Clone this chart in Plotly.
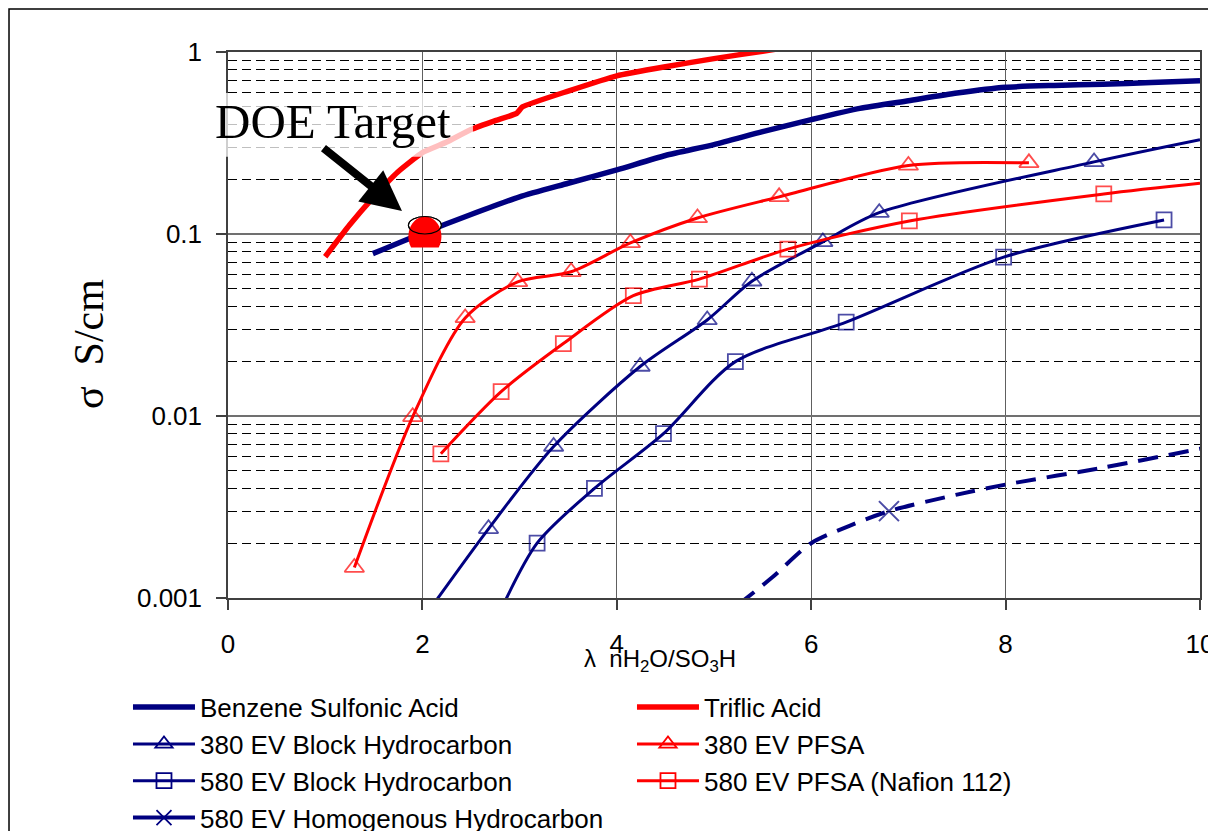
import numpy as np
import plotly.graph_objects as go

# ---------------- data ----------------
bsa_x = [1.49, 2.0, 2.5, 3.0, 3.5, 4.0, 4.5, 5.0, 5.5, 6.0, 6.5, 7.0, 7.5, 8.0, 8.5, 9.0, 9.5, 10.0]
bsa_y = [0.078, 0.101, 0.128, 0.160, 0.190, 0.225, 0.27, 0.31, 0.365, 0.425, 0.49, 0.54, 0.595, 0.64, 0.655, 0.665, 0.68, 0.695]

trf_x = [1.0, 1.25, 1.5, 1.75, 2.0, 2.25, 2.5, 2.75, 2.97, 3.03, 3.5, 4.0, 4.5, 5.0, 5.5, 6.0, 6.25]
trf_y = [0.075, 0.112, 0.16, 0.22, 0.28, 0.32, 0.375, 0.42, 0.46, 0.50, 0.61, 0.74, 0.83, 0.92, 1.01, 1.11, 1.15]

# 380 EV Block Hydrocarbon: markers + line extensions
b380_x = [2.68, 3.35, 4.24, 4.93, 5.39, 6.12, 6.70, 8.91]
b380_y = [0.0024, 0.0068, 0.0187, 0.0337, 0.055, 0.0905, 0.131, 0.249]
b380_lo_x, b380_lo_y = [2.0], [0.00076]
b380_hi_x, b380_hi_y = [10.0], [0.33]

# 380 EV PFSA
p380_x = [1.30, 1.90, 2.44, 2.98, 3.53, 4.14, 4.83, 5.67, 7.00, 8.24]
p380_y = [0.00147, 0.0099, 0.0346, 0.0546, 0.062, 0.0893, 0.1225, 0.160, 0.238, 0.246]

# 580 EV Block Hydrocarbon
b580_x = [3.18, 3.77, 4.48, 5.22, 6.36, 7.98, 9.63]
b580_y = [0.0020, 0.0040, 0.0080, 0.0199, 0.0328, 0.0746, 0.1195]
b580_lo_x, b580_lo_y = [2.75], [0.00074]

# 580 EV PFSA (Nafion 112)
p580_x = [2.19, 2.81, 3.45, 4.17, 4.85, 5.76, 7.01, 9.01]
p580_y = [0.0062, 0.0136, 0.0250, 0.0458, 0.0565, 0.0826, 0.118, 0.166]
p580_hi_x, p580_hi_y = [10.0], [0.19]

# 580 EV Homogenous Hydrocarbon (dashed, one marker at 6.8)
hom_x = [5.25, 5.6, 6.0, 6.4, 6.8, 7.5, 8.0, 9.0, 10.0, 10.2]
hom_y = [0.00092, 0.0013, 0.0020, 0.0025, 0.0030, 0.0037, 0.0042, 0.0052, 0.0066, 0.0069]
hom_marker_x = [6.8]

doe_x, doe_y = [2.0], [0.1]

series_names = ["Benzene Sulfonic Acid", "Triflic Acid", "380 EV Block Hydrocarbon", "380 EV PFSA",
                "580 EV Block Hydrocarbon", "580 EV PFSA (Nafion 112)", "580 EV Homogenous Hydrocarbon"]

x_ticks = [0, 2, 4, 6, 8, 10]
y_ticks = [0.001, 0.01, 0.1, 1]
y_ticktext = ["0.001", "0.01", "0.1", "1"]

NAVY = "#000080"
RED = "#FF0000"
TRI = 17   # triangle marker size
SQ = 15    # square marker size
XS = 20    # x marker size

styles = {
    series_names[0]: dict(color=NAVY, width=5.5, symbol=None, dash="solid"),
    series_names[1]: dict(color=RED, width=5.5, symbol=None, dash="solid"),
    series_names[2]: dict(color=NAVY, width=3, symbol="triangle-up-open", size=TRI, dash="solid"),
    series_names[3]: dict(color=RED, width=3, symbol="triangle-up-open", size=TRI, dash="solid"),
    series_names[4]: dict(color=NAVY, width=3, symbol="square-open", size=SQ, dash="solid"),
    series_names[5]: dict(color=RED, width=3, symbol="square-open", size=SQ, dash="solid"),
    series_names[6]: dict(color=NAVY, width=4, symbol="x-thin-open", size=XS, dash="20px,11px"),
}


def join(lo_x, lo_y, mx, my, hi_x, hi_y, size):
    xs = list(lo_x) + list(mx) + list(hi_x)
    ys = list(lo_y) + list(my) + list(hi_y)
    sz = [0] * len(lo_x) + [size] * len(mx) + [0] * len(hi_x)
    return xs, ys, sz


fig = go.Figure()

# legend proxies (no data, only legend entries)
for name in series_names:
    st = styles[name]
    if st["symbol"] is None:
        fig.add_trace(go.Scatter(x=[None], y=[None], mode="lines", name=name,
                                 line=dict(color=st["color"], width=st["width"])))
    else:
        fig.add_trace(go.Scatter(x=[None], y=[None], mode="lines+markers", name=name,
                                 line=dict(color=st["color"], width=st["width"] if name != series_names[6] else 4),
                                 marker=dict(symbol=st["symbol"], size=min(st["size"], 15), color=st["color"],
                                             line=dict(color=st["color"], width=1.8))))


def add_series(name, xs, ys, sz=None, smoothing=0.8):
    st = styles[name]
    kw = dict(x=xs, y=ys, name=name, showlegend=False,
              line=dict(color=st["color"], width=st["width"], dash=st["dash"],
                        shape="spline", smoothing=smoothing))
    if sz is None:
        kw["mode"] = "lines"
    else:
        kw["mode"] = "lines+markers"
        kw["marker"] = dict(symbol=st["symbol"], size=sz, color=st["color"],
                            line=dict(color=st["color"], width=1.8 if st["symbol"] != "x-thin-open" else 2))
    fig.add_trace(go.Scatter(**kw))


add_series(series_names[0], bsa_x, bsa_y, smoothing=0.6)
add_series(series_names[1], trf_x, trf_y, smoothing=0.4)
add_series(series_names[2], *join(b380_lo_x, b380_lo_y, b380_x, b380_y, b380_hi_x, b380_hi_y, TRI))
add_series(series_names[3], *join([], [], p380_x, p380_y, [], [], TRI))
add_series(series_names[4], *join(b580_lo_x, b580_lo_y, b580_x, b580_y, [], [], SQ))
add_series(series_names[5], *join([], [], p580_x, p580_y, p580_hi_x, p580_hi_y, SQ))
add_series(series_names[6], hom_x, hom_y, [XS if v in hom_marker_x else 0 for v in hom_x])

# ---------------- DOE target marker (ellipse, red upper part) ----------------
rx, ry, cx, cy = 16.5, 20.0, 2.5, -2.5   # pixels relative to the (2, 0.1) anchor, y up
chord = cy - 11.0
ang_lo = np.arcsin((chord - cy) / ry)
tt = np.linspace(ang_lo, np.pi - ang_lo, 80)
cap_path = "M" + " L".join(f"{cx + rx*np.cos(a):.2f},{cy + ry*np.sin(a):.2f}" for a in tt) + " Z"

shapes = [
    dict(type="circle", xref="x", yref="y", xsizemode="pixel", ysizemode="pixel",
         xanchor=doe_x[0], yanchor=doe_y[0], x0=cx - rx, x1=cx + rx, y0=cy - ry, y1=cy + ry,
         fillcolor="white", line=dict(color="black", width=1), layer="above"),
    dict(type="path", xref="x", yref="y", xsizemode="pixel", ysizemode="pixel",
         xanchor=doe_x[0], yanchor=doe_y[0], path=cap_path,
         fillcolor=RED, line=dict(width=0), layer="above"),
    dict(type="circle", xref="x", yref="y", xsizemode="pixel", ysizemode="pixel",
         xanchor=doe_x[0], yanchor=doe_y[0], x0=cx - rx, x1=cx + rx, y0=cy - ry, y1=cy + ry,
         fillcolor="rgba(0,0,0,0)", line=dict(color="black", width=1.2), layer="above"),
    # translucent box behind DOE text
    dict(type="rect", xref="paper", yref="paper", x0=-0.0154, x1=0.252, y0=0.808, y1=0.925,
         fillcolor="rgba(255,255,255,0.75)", line=dict(width=0), layer="above"),
    # outer frame
    dict(type="rect", xref="paper", yref="paper", x0=-0.2253, x1=1.3, y0=-1.0, y1=1.0788,
         fillcolor="rgba(0,0,0,0)", line=dict(color="black", width=1.5), layer="above"),
]

annotations = [
    dict(text="DOE Target", xref="paper", yref="paper", x=0.108, y=0.872, showarrow=False,
         font=dict(family="Liberation Serif", size=49, color="black"), xanchor="center", yanchor="middle"),
    dict(text="", xref="paper", yref="paper", x=0.179, y=0.709, showarrow=True,
         ax=-80, ay=-64, arrowhead=2, arrowsize=1.0, arrowwidth=8, arrowcolor="black", standoff=0),
    dict(text="λ  nH<sub>2</sub>O/SO<sub>3</sub>H", xref="paper", yref="paper", x=0.444, y=-0.1136,
         showarrow=False, font=dict(family="Liberation Sans", size=24, color="black"),
         xanchor="center", yanchor="middle"),
    dict(text="σ  S/cm", xref="paper", yref="paper", x=-0.143, y=0.465, textangle=-90,
         showarrow=False, font=dict(family="Liberation Serif", size=42, color="black"),
         xanchor="center", yanchor="middle"),
]

fig.update_layout(
    width=1208, height=831,
    margin=dict(l=228, r=8, t=52, b=233, autoexpand=False),
    paper_bgcolor="white", plot_bgcolor="white",
    font=dict(family="Liberation Sans", size=26, color="black"),
    shapes=shapes, annotations=annotations,
    showlegend=True,
    legend=dict(orientation="h", x=-0.1029, y=-0.157, xanchor="left", yanchor="top",
                entrywidth=427, entrywidthmode="pixels", itemwidth=62, itemsizing="trace",
                font=dict(family="Liberation Sans", size=26, color="black"),
                bgcolor="rgba(0,0,0,0)", tracegroupgap=0),
)

fig.update_xaxes(range=[0, 10], tickvals=x_ticks, ticktext=[str(v) for v in x_ticks],
                 showgrid=True, gridcolor="#606060", gridwidth=1,
                 showline=True, linecolor="#404040", linewidth=1.5, mirror=True,
                 ticks="outside", ticklen=10, tickcolor="#404040", tickwidth=1.5,
                 ticklabelstandoff=12, ticklabeloverflow="allow", tickfont=dict(size=26),
                 zeroline=False)
fig.update_yaxes(type="log", range=[-3, 0], tickvals=y_ticks, ticktext=y_ticktext,
                 showgrid=True, gridcolor="#707070", gridwidth=1.5,
                 showline=True, linecolor="#404040", linewidth=1.5, mirror=True,
                 ticks="outside", ticklen=10, tickcolor="#404040", tickwidth=1.5,
                 ticklabelstandoff=9, tickfont=dict(size=26),
                 minor=dict(dtick="D1", showgrid=True, gridcolor="black", gridwidth=1,
                            griddash="9px,5px", ticks=""))

fig.write_html("out.html")
